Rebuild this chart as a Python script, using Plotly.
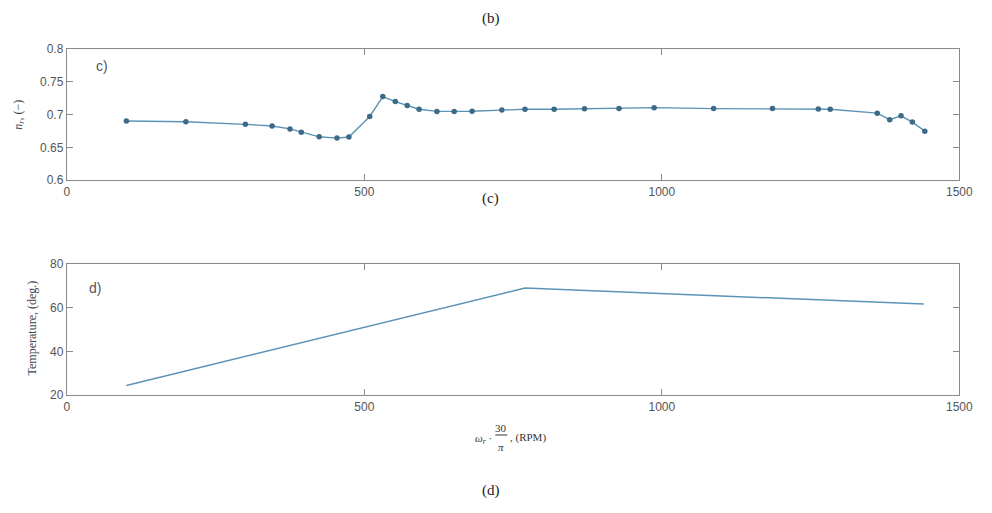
import plotly.graph_objects as go

# ---- data ----
rpm_eff = [100, 200, 300, 345, 375, 394, 424, 454, 474, 509, 531, 552, 572, 592,
           622, 651, 681, 731, 770, 819, 870, 928, 987, 1087, 1186, 1263, 1283,
           1362, 1383, 1402, 1421, 1442]
eff = [0.690, 0.689, 0.685, 0.6825, 0.678, 0.673, 0.666, 0.664, 0.6657, 0.697,
       0.7274, 0.7196, 0.7136, 0.708, 0.7047, 0.7047, 0.705, 0.7067, 0.708, 0.708,
       0.7089, 0.709, 0.7104, 0.709, 0.709, 0.7085, 0.708, 0.702, 0.692, 0.698,
       0.6884, 0.6746]
rpm_temp = [100, 770, 1440]
temp = [24.4, 68.9, 61.6]

x_ticks = [0, 500, 1000, 1500]
eff_ticks = [0.6, 0.65, 0.7, 0.75, 0.8]
eff_ticklabels = ["0.6", "0.65", "0.7", "0.75", "0.8"]
temp_ticks = [20, 40, 60, 80]

W, H = 992, 513
def px(x): return x / W
def py(y): return 1 - y / H

line_col = "#5b93b5"
mark_col = "#3c6a87"
axis_col = "#8a8a8a"
tick_font = dict(family="Liberation Sans, Arial", size=12, color="#555555")
serif = "Liberation Serif, Times New Roman"

fig = go.Figure()
fig.add_trace(go.Scatter(x=rpm_eff, y=eff, mode="lines+markers",
                         line=dict(color=line_col, width=1.4),
                         marker=dict(color=mark_col, size=5.5),
                         xaxis="x", yaxis="y", showlegend=False))
fig.add_trace(go.Scatter(x=rpm_temp, y=temp, mode="lines",
                         line=dict(color=line_col, width=1.5),
                         xaxis="x2", yaxis="y2", showlegend=False))

ax_common = dict(showline=True, linecolor=axis_col, linewidth=1.2, mirror="ticks",
                 ticks="inside", ticklen=6, tickcolor=axis_col, showgrid=False,
                 zeroline=False, tickfont=tick_font)

fig.update_layout(
    width=W, height=H, margin=dict(l=0, r=0, t=0, b=0),
    paper_bgcolor="white", plot_bgcolor="white",
    xaxis=dict(domain=[px(65), px(973)], range=[0, 1500], tickvals=x_ticks,
               anchor="y", **ax_common),
    yaxis=dict(domain=[py(178), py(43)], range=[0.6, 0.8], tickvals=eff_ticks,
               ticktext=eff_ticklabels, anchor="x", **ax_common),
    xaxis2=dict(domain=[px(65), px(973)], range=[0, 1500], tickvals=x_ticks,
                anchor="y2", **ax_common),
    yaxis2=dict(domain=[py(399), py(264)], range=[20, 80], tickvals=temp_ticks,
                anchor="x2", **ax_common),
)

def ann(text, x, y, size=14, family=serif, color="#222222", angle=0, xanchor="center"):
    fig.add_annotation(text=text, x=px(x), y=py(y), xref="paper", yref="paper",
                       showarrow=False, font=dict(family=family, size=size, color=color),
                       textangle=angle, xanchor=xanchor, yanchor="middle")

ann("(b)", 496, 12, size=15)
ann("(c)", 496, 197, size=15)
ann("(d)", 496, 497, size=15)
ann("c)", 101, 61, size=14, family="Liberation Sans, Arial", color="#555555")
ann("d)", 94, 289, size=14, family="Liberation Sans, Arial", color="#555555")
ann("<i>n<sub>r</sub></i>, (−)", 16, 111, size=12, angle=-90, color="#444444")
ann("Temperature, (deg.)", 30, 330, size=12, angle=-90, color="#444444")
ann("<i>ω<sub>r</sub></i> ·", 500, 444, size=11, xanchor="right", color="#333333")
ann("30", 507, 433, size=11, color="#333333")
ann("<i>π</i>", 507, 452, size=11, color="#333333")
ann(", (RPM)", 514, 443, size=11, xanchor="left", color="#333333")
fig.add_shape(type="line", xref="paper", yref="paper",
              x0=px(501), x1=px(513), y0=py(440), y1=py(440),
              line=dict(color="#333333", width=1))

fig.write_html("out.html", config={"displayModeBar": False},
               post_script="document.body.style.margin='0';document.body.style.overflow='hidden';")
